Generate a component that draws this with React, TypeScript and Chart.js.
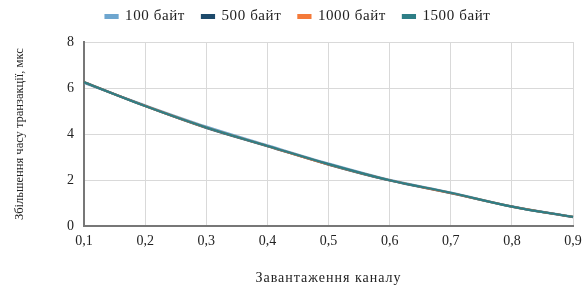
import React, { useEffect, useRef } from "react";
import { Chart, registerables } from "chart.js";

Chart.register(...registerables);

const categories = ["0,1", "0,2", "0,3", "0,4", "0,5", "0,6", "0,7", "0,8", "0,9"];
const bytes100 = [6.22, 5.25, 4.33, 3.52, 2.73, 2.02, 1.47, 0.87, 0.41];
const bytes500 = [6.26, 5.22, 4.27, 3.48, 2.68, 1.99, 1.44, 0.86, 0.4];
const bytes1000 = [6.25, 5.23, 4.29, 3.49, 2.69, 2.0, 1.45, 0.86, 0.41];
const bytes1500 = [6.25, 5.22, 4.29, 3.49, 2.7, 2.0, 1.46, 0.86, 0.41];
const yTicks = [0, 2, 4, 6, 8];

const FONT = "'Liberation Serif', 'Times New Roman', serif";

const withSpacing = (ctx: any, sp: string, fn: () => void) => {
  const prev = ctx.letterSpacing;
  ctx.letterSpacing = sp;
  try {
    fn();
  } finally {
    ctx.letterSpacing = prev || "0px";
  }
};

const layoutTweaks = {
  id: "layoutTweaks",
  beforeInit(chart: any) {
    const legend = chart.legend;
    if (!legend) return;
    const origFit = legend.fit;
    const origDraw = legend.draw;
    legend.fit = function () {
      withSpacing(chart.ctx, "0.6px", () => origFit.call(this));
      this.height = 42;
    };
    legend.draw = function () {
      const t = this.top;
      this.top = t - 8;
      withSpacing(chart.ctx, "0.6px", () => origDraw.call(this));
      this.top = t;
    };
  },
  beforeDraw(chart: any) {
    const x = chart.scales.x;
    if (x && !x.__wrapped) {
      const orig = x.drawTitle;
      x.drawTitle = function (...args: any[]) {
        withSpacing(chart.ctx, "1px", () => orig.apply(this, args));
      };
      x.__wrapped = true;
    }
  },
};

export default function App() {
  const ref = useRef<HTMLCanvasElement | null>(null);
  useEffect(() => {
    document.body.style.margin = "0";
    if (!ref.current) return;
    const mk = (label: string, data: number[], color: string, order: number) => ({
      label,
      data,
      order,
      borderColor: color,
      backgroundColor: color,
      borderWidth: 2.2,
      pointRadius: 0,
      tension: 0.35,
      fill: false,
    });
    const chart = new Chart(ref.current, {
      type: "line",
      data: {
        labels: categories,
        datasets: [
          mk("100 байт", bytes100, "#6ea6cf", 3),
          mk("500 байт", bytes500, "#1d4a6b", 2),
          mk("1000 байт", bytes1000, "#f47a3a", 1),
          mk("1500 байт", bytes1500, "#2e7e86", 0),
        ],
      },
      plugins: [layoutTweaks],
      options: {
        animation: false,
        responsive: false,
        maintainAspectRatio: false,
        layout: { padding: { left: 12, right: 0, top: 0, bottom: 0 } },
        plugins: {
          legend: {
            position: "top",
            labels: {
              boxWidth: 12,
              boxHeight: 3,
              padding: 17,
              color: "#222",
              font: { family: FONT, size: 15 },
              sort: (a: any, b: any) => a.datasetIndex - b.datasetIndex,
            },
          },
          tooltip: { enabled: false },
        },
        scales: {
          x: {
            type: "category",
            offset: false,
            afterFit: (scale: any) => {
              scale.paddingRight = 11;
            },
            grid: { color: "#d9d9d9", drawTicks: false },
            border: { color: "#777", width: 2 },
            ticks: {
              color: "#222",
              padding: 7,
              maxRotation: 0,
              autoSkip: false,
              font: { family: FONT, size: 14 },
            },
            title: {
              display: true,
              text: "Завантаження каналу",
              color: "#222",
              font: { family: FONT, size: 14 },
              padding: { top: 13, bottom: 0 },
            },
          },
          y: {
            min: 0,
            max: 8,
            afterBuildTicks: (axis: any) => {
              axis.ticks = yTicks.map((v) => ({ value: v }));
            },
            grid: { color: "#d9d9d9", drawTicks: false },
            border: { color: "#777", width: 2 },
            ticks: {
              color: "#222",
              padding: 10,
              font: { family: FONT, size: 14 },
            },
            title: {
              display: true,
              text: "Збільшення часу транзакції, мкс",
              color: "#222",
              font: { family: FONT, size: 12.5 },
              padding: { top: 0, bottom: 30 },
            },
          },
        },
      },
    });
    return () => chart.destroy();
  }, []);
  return (
    <div style={{ width: 584, height: 287 }}>
      <canvas ref={ref} width={584} height={287} style={{ width: 584, height: 287 }} />
    </div>
  );
}
